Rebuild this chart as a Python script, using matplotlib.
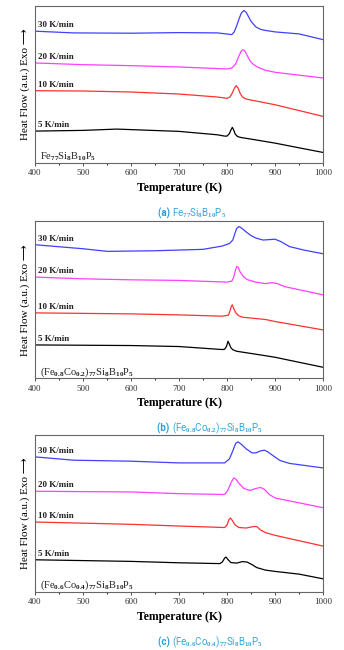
import matplotlib
matplotlib.use('Agg')
import matplotlib.pyplot as plt
import numpy as np

plt.rcParams['font.family'] = ['Liberation Serif', 'DejaVu Sans']
plt.rcParams['mathtext.fontset'] = 'custom'
plt.rcParams['mathtext.rm'] = 'Liberation Serif:bold'
plt.rcParams['mathtext.default'] = 'rm'

rates = ['5 K/min', '10 K/min', '20 K/min', '30 K/min']
colors = ['black', '#ff3030', '#ff40ff', '#4040ff']

# ---- (a) Fe77Si8B10P5 ----
a_T5 = [400, 500, 570, 700, 780, 795, 800, 805, 808, 811, 814, 817, 822, 830, 850, 900, 950, 1000]
a_H5 = [32, 32.7, 34, 31.7, 28.3, 27, 27, 29.5, 33, 35.7, 33, 29, 26.5, 25.5, 24, 20, 15.3, 10.7]
a_T10 = [400, 500, 600, 700, 780, 800, 806, 811, 815, 819, 823, 827, 832, 840, 850, 900, 1000]
a_H10 = [72.3, 72, 71, 69, 66, 64.7, 66, 70, 74.5, 77.3, 75, 70, 66, 64, 63, 58.3, 46.7]
a_T20 = [400, 500, 600, 700, 800, 810, 818, 824, 829, 833, 837, 842, 848, 855, 865, 880, 900, 1000]
a_H20 = [100, 98.3, 97.3, 96, 94, 95, 99, 106, 111.5, 113.3, 112, 107.5, 102, 98.5, 95.5, 92.7, 90.7, 85]
a_T30 = [400, 480, 600, 700, 780, 810, 815, 820, 825, 830, 835, 840, 845, 850, 860, 870, 880, 900, 950, 1000]
a_H30 = [131.7, 130, 129.7, 130.3, 130, 128.3, 131, 137, 144, 150, 152.3, 150.5, 146, 141.5, 136, 133.5, 132.5, 131, 129, 123.3]

# ---- (b) (Fe0.8Co0.2)77Si8B10P5 ----
b_T5 = [400, 600, 700, 790, 795, 799, 802, 805, 808, 812, 820, 870, 900, 950, 1000]
b_H5 = [33.3, 32.7, 31.7, 28.7, 29, 32, 37, 34, 30.5, 28.5, 27, 23.3, 21, 16, 11]
b_T10 = [400, 600, 700, 790, 803, 806, 809, 811, 814, 818, 824, 832, 880, 900, 1000]
b_H10 = [65.3, 64.3, 63.3, 62, 63, 67, 72, 73.3, 69.5, 65.5, 62.5, 61, 58.7, 56.7, 48.3]
b_T20 = [400, 500, 600, 700, 800, 810, 814, 817, 820, 823, 827, 833, 842, 860, 880, 893, 905, 920, 1000]
b_H20 = [101, 99.3, 98.3, 97.7, 96, 97, 101, 107, 111.5, 111, 106.5, 102, 98.5, 96, 94.5, 95.5, 94.5, 91.5, 83.3]
b_T30 = [400, 500, 550, 650, 750, 790, 805, 812, 816, 820, 825, 830, 840, 850, 860, 875, 890, 900, 912, 930, 960, 1000]
b_H30 = [133.3, 129.3, 126.7, 127.3, 128.7, 132, 134.5, 138, 144, 149.5, 151.5, 150, 146, 142.5, 140, 138, 138.5, 138.8, 136.5, 131.5, 128, 124.3]

# ---- (c) (Fe0.6Co0.4)77Si8B10P5 ----
c_T5 = [400, 600, 700, 785, 790, 795, 798, 802, 808, 820, 832, 842, 852, 862, 880, 900, 950, 1000]
c_H5 = [32.3, 30.7, 29.3, 28.5, 30, 34, 35, 32.5, 29.5, 29, 30.5, 30, 27.5, 24.5, 22, 20.7, 18, 13.3]
c_T10 = [400, 600, 700, 795, 800, 804, 807, 811, 817, 825, 840, 855, 862, 870, 880, 900, 1000]
c_H10 = [70, 67.7, 66, 64.5, 67, 72.5, 74, 71.5, 67, 64.5, 64, 65.5, 65.5, 62, 59.5, 56.7, 46]
c_T20 = [400, 600, 700, 795, 802, 808, 814, 818, 825, 835, 848, 860, 870, 878, 888, 900, 1000]
c_H20 = [100.7, 100, 98.3, 97.5, 102, 109, 114, 113, 108.5, 103.5, 101.5, 103.5, 104.5, 102.5, 97.5, 94, 84.3]
c_T30 = [400, 480, 600, 700, 795, 805, 812, 818, 823, 830, 840, 852, 860, 870, 878, 885, 895, 910, 930, 1000]
c_H30 = [135, 131.7, 130.7, 129, 129, 133, 141, 148.5, 150, 147.5, 143, 139, 139, 141, 141.7, 140, 136.5, 131.5, 128.5, 124]

panels = [
    ([(a_T5, a_H5), (a_T10, a_H10), (a_T20, a_H20), (a_T30, a_H30)],
     r'Fe$_{77}$Si$_{8}$B$_{10}$P$_{5}$', '(a)', r'Fe$_{77}$Si$_{8}$B$_{10}$P$_{5}$'),
    ([(b_T5, b_H5), (b_T10, b_H10), (b_T20, b_H20), (b_T30, b_H30)],
     r'(Fe$_{0.8}$Co$_{0.2}$)$_{77}$Si$_{8}$B$_{10}$P$_{5}$', '(b)',
     r'(Fe$_{0.8}$Co$_{0.2}$)$_{77}$Si$_{8}$B$_{10}$P$_{5}$'),
    ([(c_T5, c_H5), (c_T10, c_H10), (c_T20, c_H20), (c_T30, c_H30)],
     r'(Fe$_{0.6}$Co$_{0.4}$)$_{77}$Si$_{8}$B$_{10}$P$_{5}$', '(c)',
     r'(Fe$_{0.6}$Co$_{0.4}$)$_{77}$Si$_{8}$B$_{10}$P$_{5}$'),
]

fig = plt.figure(figsize=(3.44, 6.5), dpi=100)
tops = [0.991, 0.660, 0.331]
h = 0.242
for (curves, comp, tag, cap), top in zip(panels, tops):
    ax = fig.add_axes([0.102, top - h, 0.837, h])
    for (T, H), c, r in zip(curves, colors, rates):
        ax.plot(T, H, color=c, lw=0.9)
        ax.text(407, H[0] + 4, r, fontsize=6.5, fontweight='bold', color='#222222')
    ax.text(410, 4, comp, fontsize=7.5, color='#222222')
    ax.set_xlim(400, 1000)
    ax.set_ylim(0, 157)
    ax.set_yticks([])
    ax.set_xticks(np.arange(400, 1001, 100))
    ax.set_xticks(np.arange(450, 1000, 100), minor=True)
    ax.tick_params(axis='x', labelsize=6.5, length=2.5, width=0.6, pad=2, colors='#333333')
    ax.tick_params(axis='x', which='minor', length=1.5, width=0.6)
    for s in ax.spines.values():
        s.set_color('#666666')
        s.set_linewidth(0.8)
    ax.set_xlabel('Temperature (K)', fontsize=8.5, fontweight='bold', labelpad=3)
    ax.set_ylabel('Heat Flow (a.u.) Exo \u27f6', fontsize=8, labelpad=4,
                  family=['Liberation Serif', 'DejaVu Sans'])
    ycap = top - h - 0.077
    fig.text(0.5, ycap, tag + ' ', ha='right', va='center', fontsize=7,
             fontweight='bold', color='#2a9fd6', family='Roboto')
    fig.text(0.5, ycap, cap, ha='left', va='center', fontsize=7,
             color='#3aa6d8', family='Roboto')

fig.savefig('out.png', dpi=100)
